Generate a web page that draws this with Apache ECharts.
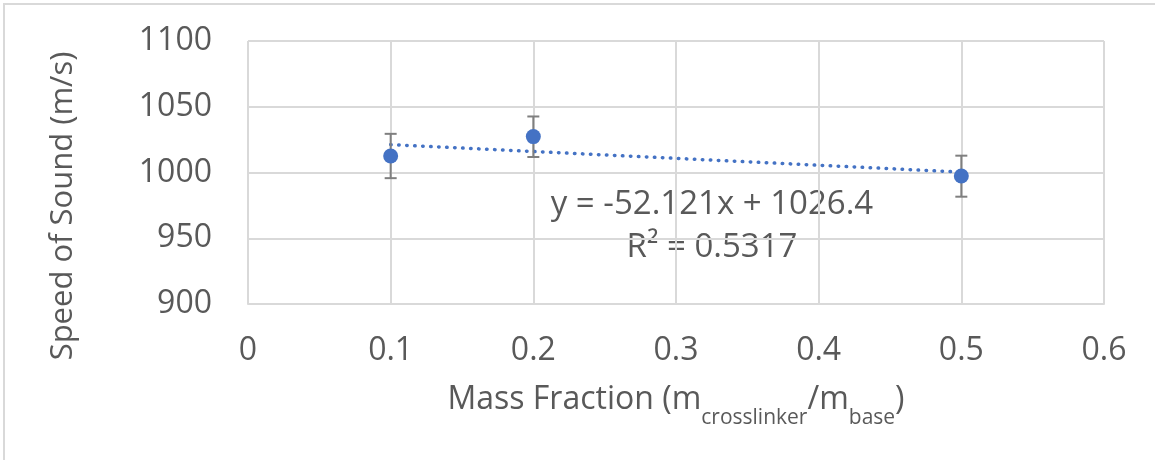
<!DOCTYPE html>
<html>
<head>
    <meta charset="utf-8">
    <title>Speed of Sound</title>
    <script src="https://cdn.jsdelivr.net/npm/echarts@6/dist/echarts.min.js"></script>
    <style>
        html, body {
            margin: 0;
            padding: 0;
            background: #ffffff;
        }

        #main {
            width: 1155px;
            height: 460px;
        }
    </style>
</head>
<body>
<div id="main"></div>
<script>
    // 数据
    var massFraction = [0.1, 0.2, 0.5];
    var speed = [1012.6, 1027.3, 997.3];
    var errLow = [995.7, 1011.8, 981.6];
    var errHigh = [1029.4, 1042.6, 1012.8];
    // 趋势线两端 (y = -52.121x + 1026.4)
    var trendX = [0.1, 0.5];
    var trendY = [1021.2, 1000.3];
    var yTicks = [900, 950, 1000, 1050, 1100];
    var xTicks = [0, 0.1, 0.2, 0.3, 0.4, 0.5, 0.6];

    var fontName = '"Open Sans", "Liberation Sans", sans-serif';
    var textColor = '#595959';
    var gridColor = '#d9d9d9';

    var pointData = massFraction.map(function (x, i) {
        return [x, speed[i]];
    });
    var errData = massFraction.map(function (x, i) {
        return [x, errLow[i], errHigh[i]];
    });
    var trendData = trendX.map(function (x, i) {
        return [x, trendY[i]];
    });

    var myChart = echarts.init(document.getElementById('main'));

    var option = {
        backgroundColor: '#ffffff',
        animation: false,
        grid: {
            left: 248,
            right: 51,
            top: 41,
            bottom: 156
        },
        xAxis: {
            type: 'value',
            min: xTicks[0],
            max: xTicks[xTicks.length - 1],
            interval: 0.1,
            axisLine: {show: true, lineStyle: {color: gridColor, width: 2}},
            axisTick: {show: false},
            splitLine: {show: true, lineStyle: {color: gridColor, width: 2}},
            axisLabel: {
                color: textColor,
                fontFamily: fontName,
                fontSize: 32,
                margin: 31
            },
            // 下标用 rich text 往下压
            name: '{a|Mass Fraction (m}{s|crosslinker}{a|/m}{s|base}{a|)}',
            nameLocation: 'middle',
            nameGap: 80,
            nameTextStyle: {
                rich: {
                    a: {
                        color: textColor,
                        fontFamily: fontName,
                        fontSize: 32,
                        lineHeight: 40,
                        verticalAlign: 'top'
                    },
                    s: {
                        color: textColor,
                        fontFamily: fontName,
                        fontSize: 21,
                        lineHeight: 68,
                        verticalAlign: 'middle'
                    }
                }
            }
        },
        yAxis: {
            type: 'value',
            min: yTicks[0],
            max: yTicks[yTicks.length - 1],
            interval: 50,
            axisLine: {show: false},
            axisTick: {show: false},
            splitLine: {show: true, lineStyle: {color: gridColor, width: 2}},
            axisLabel: {
                color: textColor,
                fontFamily: fontName,
                fontSize: 32,
                margin: 36,
                formatter: function (v) {
                    return String(v);
                }
            }
        },
        graphic: [
            {
                type: 'polyline',
                shape: {points: [[4, 460], [4, 4], [1155, 4]]},
                style: {stroke: '#d9d9d9', lineWidth: 2, fill: null},
                silent: true
            },
            {
                // y轴标题
                type: 'text',
                x: 63,
                y: 206,
                rotation: Math.PI / 2,
                style: {
                    text: 'Speed of Sound (m/s)',
                    fill: textColor,
                    font: '31px ' + fontName,
                    align: 'center',
                    verticalAlign: 'middle'
                }
            },
            {
                type: 'text',
                x: 712,
                y: 205,
                style: {
                    text: 'y = -52.121x + 1026.4',
                    fill: textColor,
                    font: '33px ' + fontName,
                    align: 'center',
                    verticalAlign: 'middle'
                }
            },
            {
                type: 'text',
                x: 712,
                y: 248,
                style: {
                    text: 'R² = 0.5317',
                    fill: textColor,
                    font: '33px ' + fontName,
                    align: 'center',
                    verticalAlign: 'middle'
                }
            }
        ],
        series: [
            {
                name: 'trend',
                type: 'line',
                data: trendData,
                symbol: 'none',
                z: 2,
                lineStyle: {
                    color: '#4472c4',
                    width: 3.5,
                    type: [0.5, 7.5],
                    cap: 'round'
                }
            },
            {
                name: 'error',
                type: 'custom',
                data: errData,
                z: 3,
                renderItem: function (params, api) {
                    var x = api.value(0);
                    var lo = api.coord([x, api.value(1)]);
                    var hi = api.coord([x, api.value(2)]);
                    var w = 6;
                    var st = {stroke: '#7f7f7f', lineWidth: 2};
                    return {
                        type: 'group',
                        children: [
                            {type: 'line', shape: {x1: lo[0], y1: lo[1], x2: hi[0], y2: hi[1]}, style: st},
                            {type: 'line', shape: {x1: lo[0] - w, y1: lo[1], x2: lo[0] + w, y2: lo[1]}, style: st},
                            {type: 'line', shape: {x1: hi[0] - w, y1: hi[1], x2: hi[0] + w, y2: hi[1]}, style: st}
                        ]
                    };
                }
            },
            {
                name: 'Speed',
                type: 'scatter',
                data: pointData,
                symbol: 'circle',
                symbolSize: 15,
                z: 4,
                itemStyle: {color: '#4472c4', opacity: 1}
            }
        ]
    };
    myChart.setOption(option);
</script>
</body>
</html>
